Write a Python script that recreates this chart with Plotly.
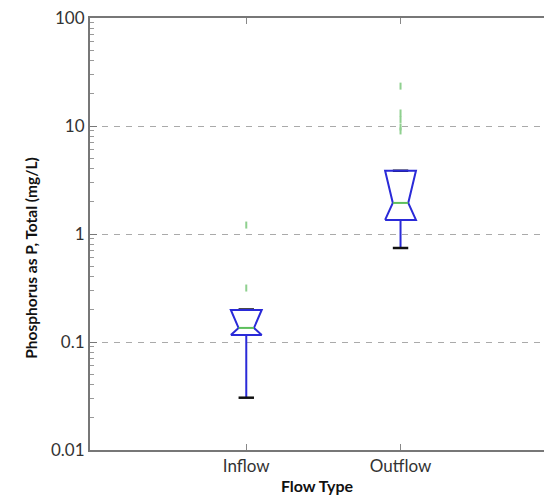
import plotly.graph_objects as go

# ---- data ----
categories = ["Inflow", "Outflow"]
q1 = [0.116, 1.35]
median = [0.135, 1.94]
q3 = [0.198, 3.85]
notch_lo = [0.116, 1.35]
notch_hi = [0.198, 3.85]
whisker_lo = [0.0305, 0.742]
whisker_hi = [0.200, 3.85]
outliers = [[0.316, 1.21], [9.0, 9.8, 11.5, 13.2, 23.4]]
y_tickvals = [0.01, 0.1, 1, 10, 100]
y_ticktext = ["0.01", "0.1", "1", "10", "100"]

# ---- style constants ----
HALF_W = 0.1
BOX_COLOR = "#2a2ad8"
MED_COLOR = "#5cbf5c"
FLIER_COLOR = "#8fd08f"
CAP_COLOR = "#111111"
FONT = "Lato"

fig = go.Figure()

pos = [i + 1 for i in range(len(categories))]

# whiskers
wx, wy = [], []
for p, a, b, lo, hi in zip(pos, q1, q3, whisker_lo, whisker_hi):
    wx += [p, p, None, p, p, None]
    wy += [a, lo, None, b, hi, None]
fig.add_trace(go.Scatter(x=wx, y=wy, mode="lines", line=dict(color=BOX_COLOR, width=2),
                         hoverinfo="skip", showlegend=False))

# caps
cx, cy = [], []
for p, lo, hi in zip(pos, whisker_lo, whisker_hi):
    cx += [p - HALF_W / 2, p + HALF_W / 2, None, p - HALF_W / 2, p + HALF_W / 2, None]
    cy += [lo, lo, None, hi, hi, None]
fig.add_trace(go.Scatter(x=cx, y=cy, mode="lines", line=dict(color=CAP_COLOR, width=2.5),
                         hoverinfo="skip", showlegend=False))

# notched boxes
bx, by = [], []
for p, a, m, b, nl, nh in zip(pos, q1, median, q3, notch_lo, notch_hi):
    bx += [p - HALF_W, p + HALF_W, p + HALF_W, p + HALF_W / 2, p + HALF_W, p + HALF_W,
           p - HALF_W, p - HALF_W, p - HALF_W / 2, p - HALF_W, p - HALF_W, None]
    by += [a, a, nl, m, nh, b, b, nh, m, nl, a, None]
fig.add_trace(go.Scatter(x=bx, y=by, mode="lines", line=dict(color=BOX_COLOR, width=2),
                         hoverinfo="skip", showlegend=False))

# medians
mx, my = [], []
for p, m in zip(pos, median):
    mx += [p - HALF_W / 2, p + HALF_W / 2, None]
    my += [m, m, None]
fig.add_trace(go.Scatter(x=mx, y=my, mode="lines", line=dict(color=MED_COLOR, width=2),
                         hoverinfo="skip", showlegend=False))

# fliers
fx, fy = [], []
for p, outs in zip(pos, outliers):
    for o in outs:
        fx.append(p)
        fy.append(o)
fig.add_trace(go.Scatter(x=fx, y=fy, mode="markers",
                         marker=dict(symbol="line-ns-open", size=5, color=FLIER_COLOR,
                                     line=dict(color=FLIER_COLOR, width=2)),
                         hoverinfo="skip", showlegend=False))

minor_vals = [m * 10 ** e for e in range(-2, 2) for m in range(2, 10)]

fig.update_layout(
    width=544, height=496,
    margin=dict(l=90, r=0, t=18, b=46),
    plot_bgcolor="white", paper_bgcolor="white",
    font=dict(family=FONT, color="#333333", size=17),
    xaxis=dict(
        range=[-0.013, 2.93],
        tickvals=pos, ticktext=categories,
        ticks="inside", ticklen=6, tickcolor="#888888",
        showline=True, linecolor="#777777", linewidth=2, mirror="ticks",
        showgrid=False, zeroline=False,
        tickfont=dict(size=17, color="#333333"),
        title=dict(text="<b>Flow Type</b>", font=dict(size=16, color="#111111"), standoff=5),
    ),
    yaxis=dict(
        type="log", range=[-2, 2],
        tickvals=y_tickvals, ticktext=y_ticktext,
        ticks="inside", ticklen=7, tickcolor="#777777",
        showline=True, linecolor="#777777", linewidth=2, mirror=False,
        showgrid=True, gridcolor="#aaaaaa", griddash="6px,6px", gridwidth=1,
        zeroline=False,
        tickfont=dict(size=17, color="#333333"),
        minor=dict(tickvals=minor_vals, ticks="inside", ticklen=4,
                   tickcolor="#999999", showgrid=False),
    ),
)

fig.add_annotation(
    text="<b>Phosphorus as P, Total (mg/L)</b>",
    xref="paper", yref="paper", x=-0.13, y=0.445,
    xanchor="center", yanchor="middle", textangle=-90, showarrow=False,
    font=dict(size=15.5, color="#111111", family=FONT),
)

fig.write_html("out.html")
